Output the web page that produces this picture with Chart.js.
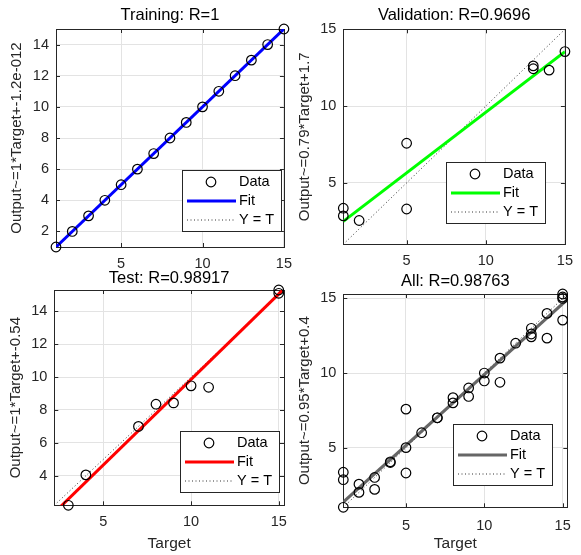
<!DOCTYPE html>
<html>
<head>
<meta charset="utf-8">
<title>Regression</title>
<script src="https://cdn.jsdelivr.net/npm/chart.js@4.4.1/dist/chart.umd.min.js"></script>
<style>
  html, body { margin: 0; padding: 0; background: #fff; }
  #wrap { position: relative; width: 581px; height: 555px; overflow: hidden; }
  canvas { position: absolute; }
</style>
</head>
<body>
<div id="wrap">
  <canvas id="c1" width="300" height="268" style="left:0;top:0"></canvas>
  <canvas id="c2" width="291" height="268" style="left:290px;top:0"></canvas>
  <canvas id="c3" width="300" height="287" style="left:0;top:268px"></canvas>
  <canvas id="c4" width="291" height="287" style="left:290px;top:268px"></canvas>
</div>
<script>
// Data
const trainTarget = [1, 2, 3, 4, 5, 6, 7, 8, 9, 10, 11, 12, 13, 14, 15];
const trainOutput = [1, 2, 3, 4, 5, 6, 7, 8, 9, 10, 11, 12, 13, 14, 15];
const valTarget   = [1, 1, 2, 5, 5, 13, 13, 14, 15];
const valOutput   = [3.35, 2.85, 2.55, 7.58, 3.3, 12.62, 12.43, 12.34, 13.55];
const testTarget  = [3, 4, 7, 8, 9, 10, 11, 15, 15];
const testOutput  = [2.2, 4.05, 7.0, 8.35, 8.43, 9.47, 9.38, 15.3, 15.1];
const allTarget   = trainTarget.concat(valTarget, testTarget);
const allOutput   = trainOutput.concat(valOutput, testOutput);

// fit: [slope, intercept]
const trainFit = [1, -1.2e-12];
const valFit   = [0.79, 1.7];
const testFit  = [1.04, -0.54];
const allFit   = [0.95, 0.4];

const titles  = ['Training: R=1', 'Validation: R=0.9696', 'Test: R=0.98917', 'All: R=0.98763'];
const yLabels = ['Output~=1*Target+-1.2e-012', 'Output~=0.79*Target+1.7',
                 'Output~=1*Target+-0.54', 'Output~=0.95*Target+0.4'];
const xTicks1 = [5, 10, 15], yTicks1 = [2, 4, 6, 8, 10, 12, 14];
const xTicks2 = [5, 10, 15], yTicks2 = [5, 10, 15];
const xTicks3 = [5, 10, 15], yTicks3 = [4, 6, 8, 10, 12, 14];
const xTicks4 = [5, 10, 15], yTicks4 = [5, 10, 15];

Chart.defaults.font.family = "'Liberation Sans', Arial, sans-serif";
Chart.defaults.color = '#262626';

// axes box + inward tick marks (MATLAB style)
const axesFrame = {
  id: 'axesFrame',
  beforeDatasetsDraw(chart) {
    const { ctx, chartArea: a, scales: { x, y } } = chart;
    ctx.save();
    ctx.strokeStyle = '#262626';
    ctx.lineWidth = 1;
    ctx.beginPath();
    x.ticks.forEach(t => {
      const px = Math.round(x.getPixelForValue(t.value)) + 0.5;
      ctx.moveTo(px, a.bottom); ctx.lineTo(px, a.bottom - 4);
      ctx.moveTo(px, a.top); ctx.lineTo(px, a.top + 4);
    });
    y.ticks.forEach(t => {
      const py = Math.round(y.getPixelForValue(t.value)) + 0.5;
      ctx.moveTo(a.left, py); ctx.lineTo(a.left + 4, py);
      ctx.moveTo(a.right, py); ctx.lineTo(a.right - 4, py);
    });
    ctx.stroke();
    ctx.strokeRect(Math.round(a.left) + 0.5, Math.round(a.top) + 0.5,
                   Math.round(a.right - a.left), Math.round(a.bottom - a.top));
    ctx.restore();
  }
};

// boxed legend inside the axes
const boxLegend = {
  id: 'boxLegend',
  afterDatasetsDraw(chart, args, opts) {
    const { ctx, chartArea } = chart;
    const w = 99, h = 61;
    const x0 = Math.round(chartArea.right - opts.right - w);
    const y0 = Math.round(chartArea.bottom - opts.bottom - h);
    const rows = [12, 31, 50];
    ctx.save();
    ctx.fillStyle = '#fff';
    ctx.fillRect(x0, y0, w, h);
    ctx.strokeStyle = '#262626';
    ctx.lineWidth = 1;
    ctx.strokeRect(x0 + 0.5, y0 + 0.5, w, h);
    chart.data.datasets.forEach((ds, i) => {
      const cy = y0 + rows[i];
      ctx.strokeStyle = ds.borderColor;
      ctx.lineWidth = ds.borderWidth;
      ctx.setLineDash(ds.borderDash || []);
      ctx.beginPath();
      if (ds.showLine) {
        ctx.moveTo(x0 + 5, cy); ctx.lineTo(x0 + 54, cy);
      } else {
        ctx.arc(x0 + 29, cy, ds.pointRadius, 0, Math.PI * 2);
      }
      ctx.stroke();
      ctx.setLineDash([]);
      ctx.fillStyle = '#000';
      ctx.font = "14.5px 'Liberation Sans', Arial, sans-serif";
      ctx.textBaseline = 'middle';
      ctx.fillText(ds.label, x0 + 57, cy);
    });
    ctx.restore();
  }
};

function makeChart(id, p) {
  const lo = Math.min(...p.target, ...p.output);
  const hi = Math.max(...p.target, ...p.output);
  const m = p.fit[0], b = p.fit[1];
  return new Chart(document.getElementById(id), {
    type: 'scatter',
    data: {
      datasets: [
        {
          label: 'Data',
          data: p.target.map((t, i) => ({ x: t, y: p.output[i] })),
          borderColor: '#000', backgroundColor: 'rgba(0,0,0,0)',
          borderWidth: 1.2, pointRadius: 4.8, pointBorderWidth: 1.2,
          clip: false
        },
        {
          label: 'Fit',
          data: [{ x: lo, y: m * lo + b }, { x: hi, y: m * hi + b }],
          showLine: true, borderColor: p.color, borderWidth: 3,
          pointRadius: 0, clip: 0
        },
        {
          label: 'Y = T',
          data: [{ x: lo, y: lo }, { x: hi, y: hi }],
          showLine: true, borderColor: '#333', borderWidth: 1,
          borderDash: [1, 2.5], pointRadius: 0, clip: 0
        }
      ]
    },
    options: {
      responsive: false,
      animation: false,
      layout: { padding: { left: 0, right: p.padR, top: 0, bottom: 0 } },
      plugins: {
        legend: { display: false },
        tooltip: { enabled: false },
        title: {
          display: true, text: p.title, fullSize: false, color: '#000',
          font: { size: 16.5, weight: 'normal' },
          padding: { top: p.tTop, bottom: p.tBot }
        },
        boxLegend: p.legend
      },
      scales: {
        x: {
          type: 'linear', min: lo, max: hi,
          afterBuildTicks: s => { s.ticks = p.xTicks.map(v => ({ value: v })); },
          afterFit: s => { s.height = p.xH; },
          grid: { color: '#e3e3e3', drawTicks: false },
          border: { display: false },
          ticks: { padding: p.xPad, autoSkip: false, maxRotation: 0, font: { size: 14.5 } },
          title: {
            display: !!p.xTitle, text: 'Target', font: { size: 15.5 },
            padding: { top: 0, bottom: p.xtPad }
          }
        },
        y: {
          type: 'linear', min: lo, max: hi,
          afterBuildTicks: s => { s.ticks = p.yTicks.map(v => ({ value: v })); },
          afterFit: s => { s.width = p.yW; },
          grid: { color: '#e3e3e3', drawTicks: false },
          border: { display: false },
          ticks: { padding: 7, autoSkip: false, font: { size: 14.5 } },
          title: {
            display: true, text: p.yLabel, font: { size: 15 },
            padding: { top: p.ytPad, bottom: 0 }
          }
        }
      }
    },
    plugins: [axesFrame, boxLegend]
  });
}

makeChart('c1', {
  target: trainTarget, output: trainOutput, fit: trainFit, color: '#0000ff',
  title: titles[0], yLabel: yLabels[0], xTicks: xTicks1, yTicks: yTicks1,
  padR: 12, tTop: 5.5, tBot: 3.7, xH: 21, xPad: 8, yW: 56, ytPad: 7.7,
  legend: { right: 3, bottom: 16 }
});
makeChart('c2', {
  target: valTarget, output: valOutput, fit: valFit, color: '#00ff00',
  title: titles[1], yLabel: yLabels[1], xTicks: xTicks2, yTicks: yTicks2,
  padR: 8, tTop: 6, tBot: 3.5, xH: 23.7, xPad: 8, yW: 53.3, ytPad: 6,
  legend: { right: 19.7, bottom: 21 }
});
makeChart('c3', {
  target: testTarget, output: testOutput, fit: testFit, color: '#ff0000',
  title: titles[2], yLabel: yLabels[2], xTicks: xTicks3, yTicks: yTicks3,
  padR: 16, tTop: 0.3, tBot: 1.9, xH: 49.7, xPad: 8, yW: 54.3, ytPad: 6.7,
  xTitle: true, xtPad: 1.5,
  legend: { right: 4.7, bottom: 13.6 }
});
makeChart('c4', {
  target: allTarget, output: allOutput, fit: allFit, color: '#666666',
  title: titles[3], yLabel: yLabels[3], xTicks: xTicks4, yTicks: yTicks4,
  padR: 8.3, tTop: 3.7, tBot: 2.5, xH: 47.7, xPad: 10, yW: 53.3, ytPad: 6,
  xTitle: true, xtPad: 1.8,
  legend: { right: 15, bottom: 22.3 }
});
</script>
</body>
</html>
